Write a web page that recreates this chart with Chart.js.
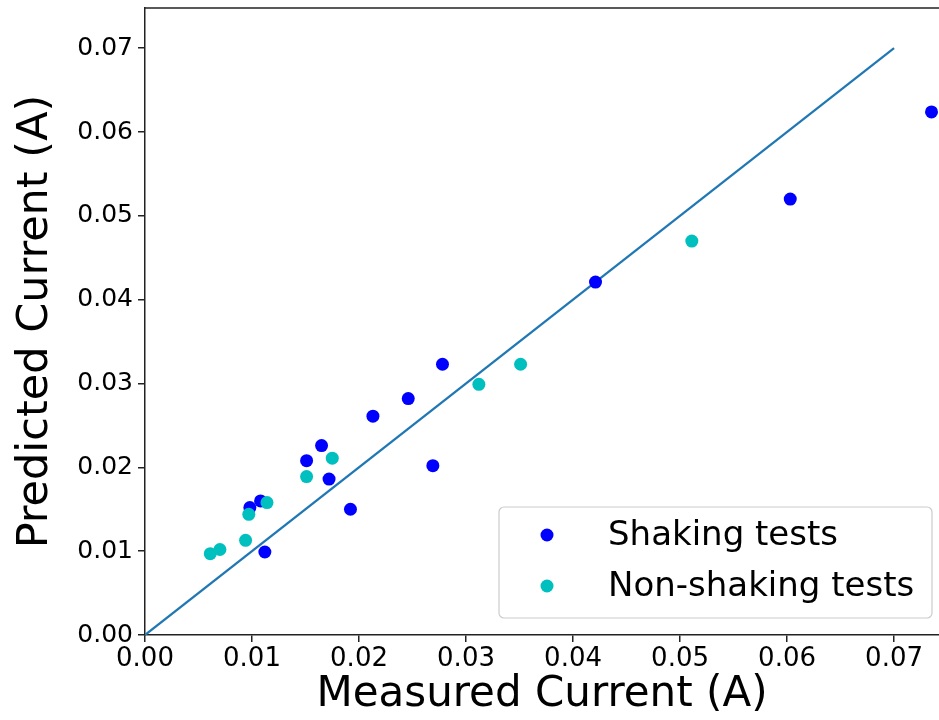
<!DOCTYPE html>
<html>
<head>
<meta charset="utf-8">
<script src="https://cdn.jsdelivr.net/npm/chart.js@4"></script>
<style>
  html, body { margin: 0; padding: 0; background: #fff; }
  #wrap { width: 939px; height: 720px; }
</style>
</head>
<body>
<div id="wrap"><canvas id="scatterChart" width="939" height="720"></canvas></div>
<script>
// --- Data ---
const shakingMeasured = [0.0098, 0.0108, 0.0112, 0.0151, 0.0165, 0.0172, 0.0192, 0.0213, 0.0246, 0.0278, 0.0269, 0.0421, 0.0603, 0.0735];
const shakingPredicted = [0.0152, 0.0160, 0.0099, 0.0208, 0.0226, 0.0186, 0.0150, 0.0261, 0.0282, 0.0323, 0.0202, 0.0421, 0.0520, 0.0624];

const nonShakingMeasured = [0.0061, 0.0070, 0.0094, 0.0097, 0.0114, 0.0151, 0.0175, 0.0312, 0.0351, 0.0511];
const nonShakingPredicted = [0.0097, 0.0102, 0.0113, 0.0144, 0.0158, 0.0189, 0.0211, 0.0299, 0.0323, 0.0470];

// ideal y = x reference line
const idealLine = [0, 0.07];

const tickValues = [0, 0.01, 0.02, 0.03, 0.04, 0.05, 0.06, 0.07];

const toPoints = (xs, ys) => xs.map((x, i) => ({ x: x, y: ys[i] }));

const FONT = "'DejaVu Sans', sans-serif";

// stop Chart.js from reserving room for overhanging tick labels
function noLabelPadding(scale) {
    scale.paddingLeft = 0;
    scale.paddingRight = 0;
    scale.paddingTop = 0;
    scale.paddingBottom = 0;
}

// Draws the top spine of the axes box
const topSpine = {
    id: 'topSpine',
    afterDraw(chart) {
        const ctx = chart.ctx;
        const area = chart.chartArea;
        ctx.save();
        ctx.strokeStyle = '#222';
        ctx.lineWidth = 1.5;
        ctx.beginPath();
        ctx.moveTo(area.left, area.top);
        ctx.lineTo(area.right, area.top);
        ctx.stroke();
        ctx.restore();
    }
};

// Matplotlib-like legend in the lower right corner
const boxLegend = {
    id: 'boxLegend',
    afterDraw(chart) {
        const ctx = chart.ctx;
        const area = chart.chartArea;
        const items = chart.data.datasets.filter(d => d.showInLegend);
        const w = 433, h = 111;
        const x = area.right - 7 - w;
        const y = area.bottom - 17 - h;
        ctx.save();
        ctx.beginPath();
        ctx.roundRect(x, y, w, h, 5);
        ctx.fillStyle = 'rgba(255,255,255,0.8)';
        ctx.fill();
        ctx.strokeStyle = '#cccccc';
        ctx.lineWidth = 1.2;
        ctx.stroke();
        ctx.font = '34px ' + FONT;
        ctx.textBaseline = 'middle';
        ctx.textAlign = 'left';
        items.forEach((d, i) => {
            const cy = y + 28 + i * 51;
            ctx.beginPath();
            ctx.arc(x + 48, cy, 6.5, 0, Math.PI * 2);
            ctx.fillStyle = d.backgroundColor;
            ctx.fill();
            ctx.fillStyle = '#000';
            ctx.fillText(d.label, x + 109, cy + 1);
        });
        ctx.restore();
    }
};

const ctx = document.getElementById('scatterChart').getContext('2d');
const chart = new Chart(ctx, {
    type: 'scatter',
    data: {
        datasets: [
            {
                label: 'Ideal',
                type: 'line',
                data: toPoints(idealLine, idealLine),
                borderColor: '#1f77b4',
                borderWidth: 2.2,
                pointRadius: 0,
                fill: false,
                order: 3
            },
            {
                label: 'Shaking tests',
                data: toPoints(shakingMeasured, shakingPredicted),
                backgroundColor: '#0000ff',
                borderWidth: 0,
                pointRadius: 6.5,
                showInLegend: true,
                order: 2
            },
            {
                label: 'Non-shaking tests',
                data: toPoints(nonShakingMeasured, nonShakingPredicted),
                backgroundColor: '#00bfbf',
                borderWidth: 0,
                pointRadius: 6.5,
                showInLegend: true,
                order: 1
            }
        ]
    },
    options: {
        responsive: false,
        animation: false,
        layout: { autoPadding: false, padding: { top: 8, right: 0, left: 0, bottom: 0 } },
        plugins: {
            legend: { display: false },
            tooltip: { enabled: false }
        },
        scales: {
            x: {
                type: 'linear',
                min: 0,
                max: 0.0742,
                afterFit: scale => { scale.height = 85; noLabelPadding(scale); },
                afterBuildTicks: scale => { scale.ticks = tickValues.map(v => ({ value: v })); },
                ticks: {
                    color: '#000',
                    font: { family: FONT, size: 26 },
                    padding: 2,
                    maxRotation: 0,
                    autoSkip: false,
                    callback: v => v.toFixed(2)
                },
                grid: { drawOnChartArea: false, drawTicks: true, tickLength: 7, color: '#222', lineWidth: 1.5 },
                border: { display: true, color: '#222', width: 1.5 },
                title: {
                    display: true,
                    text: 'Measured Current (A)',
                    color: '#000',
                    font: { family: FONT, size: 42 },
                    padding: { top: 5, bottom: 0 }
                }
            },
            y: {
                type: 'linear',
                min: 0,
                max: 0.0748,
                afterFit: scale => { scale.width = 145; noLabelPadding(scale); },
                afterBuildTicks: scale => { scale.ticks = tickValues.map(v => ({ value: v })); },
                ticks: {
                    color: '#000',
                    font: { family: FONT, size: 25 },
                    padding: 5,
                    autoSkip: false,
                    callback: v => v.toFixed(2)
                },
                grid: { drawOnChartArea: false, drawTicks: true, tickLength: 7, color: '#222', lineWidth: 1.5 },
                border: { display: true, color: '#222', width: 1.5 },
                title: {
                    display: true,
                    text: 'Predicted Current (A)',
                    color: '#000',
                    font: { family: FONT, size: 43 },
                    padding: { top: 10, bottom: 0 }
                }
            }
        }
    },
    plugins: [topSpine, boxLegend]
});
</script>
</body>
</html>
